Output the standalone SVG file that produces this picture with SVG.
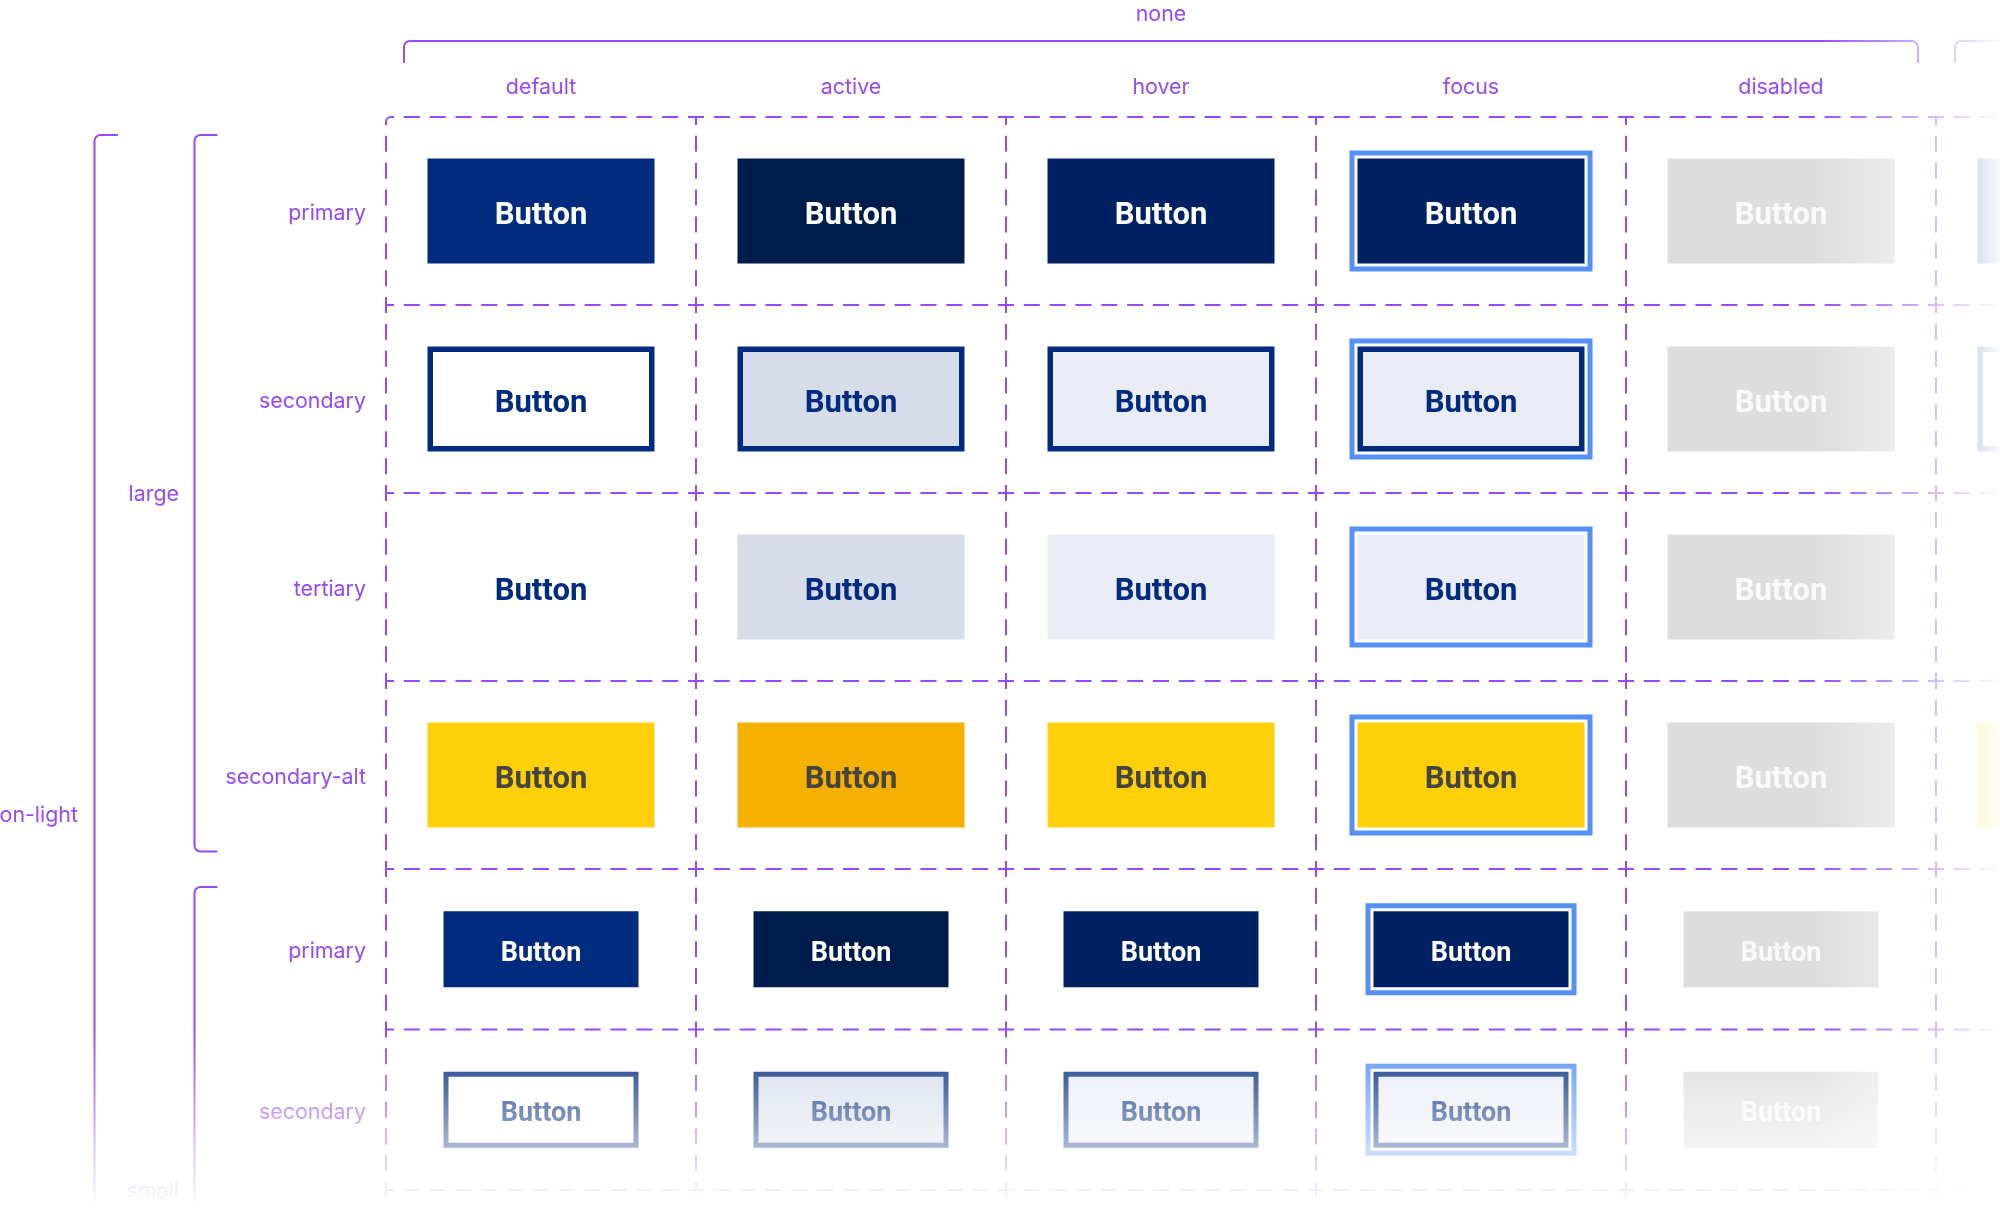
<svg xmlns="http://www.w3.org/2000/svg" width="2000" height="1208" viewBox="0 0 2000 1208">
<style>
.lbl{font-family:Inter,"Noto Sans","Liberation Sans",sans-serif;font-size:21.4px;fill:#9747ff}
.mid{text-anchor:middle}
.end{text-anchor:end}
.bt{font-family:Roboto,"Liberation Sans",sans-serif;font-weight:700;text-anchor:middle}
.L{font-size:31px}
.S{font-size:27px}
.w{fill:#ffffff}
.dt{fill:#f9f9f9}
.nt{fill:#002b7f}
.yt{fill:#444444}
.gh{stroke:#9747ff;stroke-width:2;fill:none;stroke-dasharray:16 9.833;stroke-dashoffset:8}
.gv{stroke:#9747ff;stroke-width:2;fill:none;stroke-dasharray:16 10.857;stroke-dashoffset:8}
.gs{stroke:#9747ff;stroke-width:2;fill:none;stroke-dasharray:16 10.75;stroke-dashoffset:8}
.br{stroke:#9747ff;stroke-width:2;fill:none}
.pd{fill:#002b7f}
.pa{fill:#001c4c}
.ph{fill:#002163}
.dis{fill:#dddddd}
.sb{stroke:#002b7f;stroke-width:5.5}
.ss{stroke:#002b7f;stroke-width:5}
.bgw{fill:#ffffff}
.bga{fill:#d6dde9}
.bgh{fill:#e9ecf5}
.yd{fill:#fdd00a}
.ya{fill:#f5b000}
.ring{fill:#5591f5}
.gap{fill:#ffffff}
</style>
<defs>
<linearGradient id="gR" gradientUnits="userSpaceOnUse" x1="1815" y1="0" x2="2005" y2="0">
<stop offset="0" stop-color="#ffffff"/><stop offset="1" stop-color="#000000"/>
</linearGradient>
<linearGradient id="gB" gradientUnits="userSpaceOnUse" x1="0" y1="1030" x2="0" y2="1208">
<stop offset="0" stop-color="#ffffff"/><stop offset="1" stop-color="#000000"/>
</linearGradient>
<mask id="mR" maskUnits="userSpaceOnUse" x="0" y="0" width="2000" height="1208"><rect x="0" y="0" width="2000" height="1208" fill="url(#gR)"/></mask>
<mask id="mB" maskUnits="userSpaceOnUse" x="0" y="0" width="2000" height="1208"><rect x="0" y="0" width="2000" height="1208" fill="url(#gB)"/></mask>
</defs>
<rect x="0" y="0" width="2000" height="1208" fill="#ffffff"/>
<g mask="url(#mB)">
<g mask="url(#mR)">

<g id="grid">
<path class="br" d="M386,125 V122 A5,5 0 0 1 391,117 H394"/>
<line class="gh" x1="391" y1="117" x2="2300" y2="117" style="stroke-dashoffset:13"/>
<line class="gh" x1="386" y1="305" x2="2300" y2="305"/>
<line class="gh" x1="386" y1="493" x2="2300" y2="493"/>
<line class="gh" x1="386" y1="681" x2="2300" y2="681"/>
<line class="gh" x1="386" y1="869" x2="2300" y2="869"/>
<line class="gh" x1="386" y1="1029.5" x2="2300" y2="1029.5"/>
<line class="gh" x1="386" y1="1190" x2="2300" y2="1190"/>
<line class="gv" x1="386" y1="122" x2="386" y2="869" style="stroke-dashoffset:13"/>
<line class="gv" x1="696" y1="117" x2="696" y2="869"/>
<line class="gv" x1="1006" y1="117" x2="1006" y2="869"/>
<line class="gv" x1="1316" y1="117" x2="1316" y2="869"/>
<line class="gv" x1="1626" y1="117" x2="1626" y2="869"/>
<line class="gv" x1="1936" y1="117" x2="1936" y2="869"/>
<line class="gs" x1="386" y1="869" x2="386" y2="1400"/>
<line class="gs" x1="696" y1="869" x2="696" y2="1400"/>
<line class="gs" x1="1006" y1="869" x2="1006" y2="1400"/>
<line class="gs" x1="1316" y1="869" x2="1316" y2="1400"/>
<line class="gs" x1="1626" y1="869" x2="1626" y2="1400"/>
<line class="gs" x1="1936" y1="869" x2="1936" y2="1400"/>
</g>

<g id="connectors">
<path class="br" d="M404,63 V47 A6,6 0 0 1 410,41 H1912 A6,6 0 0 1 1918,47 V63"/>
<path class="br" d="M1955,63 V47 A6,6 0 0 1 1961,41 H2300"/>
<path class="br" d="M118,135 H100.5 A6,6 0 0 0 94.5,141 V1400"/>
<path class="br" d="M217.5,135 H200.5 A6,6 0 0 0 194.5,141 V845.5 A6,6 0 0 0 200.5,851.5 H217.5"/>
<path class="br" d="M217.5,887 H200.5 A6,6 0 0 0 194.5,893 V1400"/>
</g>

<g id="labels">
<text class="lbl mid" x="1161" y="21">none</text>
<text class="lbl mid" x="541" y="94">default</text>
<text class="lbl mid" x="851" y="94">active</text>
<text class="lbl mid" x="1161" y="94">hover</text>
<text class="lbl mid" x="1471" y="94">focus</text>
<text class="lbl mid" x="1781" y="94">disabled</text>
<text class="lbl end" x="78" y="822">on-light</text>
<text class="lbl end" x="179" y="501">large</text>
<text class="lbl end" x="179" y="1198">small</text>
<text class="lbl end" x="366" y="219.5">primary</text>
<text class="lbl end" x="366" y="407.5">secondary</text>
<text class="lbl end" x="366" y="595.5">tertiary</text>
<text class="lbl end" x="366" y="783.5">secondary-alt</text>
<text class="lbl end" x="366" y="958">primary</text>
<text class="lbl end" x="366" y="1118.5">secondary</text>
</g>

<!-- large primary -->
<g id="large-primary-default"><rect class="pd" x="427.5" y="158.5" width="227" height="105"/><text class="bt L w" x="541" y="223.5">Button</text></g>
<g id="large-primary-active"><rect class="pa" x="737.5" y="158.5" width="227" height="105"/><text class="bt L w" x="851" y="223.5">Button</text></g>
<g id="large-primary-hover"><rect class="ph" x="1047.5" y="158.5" width="227" height="105"/><text class="bt L w" x="1161" y="223.5">Button</text></g>
<g id="large-primary-focus"><rect class="ring" x="1349.5" y="150.5" width="243" height="121"/><rect class="gap" x="1354.5" y="155.5" width="233" height="111"/><rect class="ph" x="1357.5" y="158.5" width="227" height="105"/><text class="bt L w" x="1471" y="223.5">Button</text></g>
<g id="large-primary-disabled"><rect class="dis" x="1667.5" y="158.5" width="227" height="105"/><text class="bt L dt" x="1781" y="223.5">Button</text></g>
<g id="large-primary-next"><rect class="pd" x="1977.5" y="158.5" width="227" height="105"/></g>

<!-- large secondary -->
<g id="large-secondary-default"><rect class="bgw sb" x="430.25" y="349.25" width="221.5" height="99.5"/><text class="bt L nt" x="541" y="411.5">Button</text></g>
<g id="large-secondary-active"><rect class="bga sb" x="740.25" y="349.25" width="221.5" height="99.5"/><text class="bt L nt" x="851" y="411.5">Button</text></g>
<g id="large-secondary-hover"><rect class="bgh sb" x="1050.25" y="349.25" width="221.5" height="99.5"/><text class="bt L nt" x="1161" y="411.5">Button</text></g>
<g id="large-secondary-focus"><rect class="ring" x="1349.5" y="338.5" width="243" height="121"/><rect class="gap" x="1354.5" y="343.5" width="233" height="111"/><rect class="bgh sb" x="1360.25" y="349.25" width="221.5" height="99.5"/><text class="bt L nt" x="1471" y="411.5">Button</text></g>
<g id="large-secondary-disabled"><rect class="dis" x="1667.5" y="346.5" width="227" height="105"/><text class="bt L dt" x="1781" y="411.5">Button</text></g>
<g id="large-secondary-next"><rect class="bgw sb" x="1980.25" y="349.25" width="221.5" height="99.5"/></g>

<!-- large tertiary -->
<g id="large-tertiary-default"><text class="bt L nt" x="541" y="599.5">Button</text></g>
<g id="large-tertiary-active"><rect class="bga" x="737.5" y="534.5" width="227" height="105"/><text class="bt L nt" x="851" y="599.5">Button</text></g>
<g id="large-tertiary-hover"><rect class="bgh" x="1047.5" y="534.5" width="227" height="105"/><text class="bt L nt" x="1161" y="599.5">Button</text></g>
<g id="large-tertiary-focus"><rect class="ring" x="1349.5" y="526.5" width="243" height="121"/><rect class="gap" x="1354.5" y="531.5" width="233" height="111"/><rect class="bgh" x="1357.5" y="534.5" width="227" height="105"/><text class="bt L nt" x="1471" y="599.5">Button</text></g>
<g id="large-tertiary-disabled"><rect class="dis" x="1667.5" y="534.5" width="227" height="105"/><text class="bt L dt" x="1781" y="599.5">Button</text></g>

<!-- large secondary-alt -->
<g id="large-secondary-alt-default"><rect class="yd" x="427.5" y="722.5" width="227" height="105"/><text class="bt L yt" x="541" y="787.5">Button</text></g>
<g id="large-secondary-alt-active"><rect class="ya" x="737.5" y="722.5" width="227" height="105"/><text class="bt L yt" x="851" y="787.5">Button</text></g>
<g id="large-secondary-alt-hover"><rect class="yd" x="1047.5" y="722.5" width="227" height="105"/><text class="bt L yt" x="1161" y="787.5">Button</text></g>
<g id="large-secondary-alt-focus"><rect class="ring" x="1349.5" y="714.5" width="243" height="121"/><rect class="gap" x="1354.5" y="719.5" width="233" height="111"/><rect class="yd" x="1357.5" y="722.5" width="227" height="105"/><text class="bt L yt" x="1471" y="787.5">Button</text></g>
<g id="large-secondary-alt-disabled"><rect class="dis" x="1667.5" y="722.5" width="227" height="105"/><text class="bt L dt" x="1781" y="787.5">Button</text></g>
<g id="large-secondary-alt-next"><rect class="yd" x="1977.5" y="722.5" width="227" height="105"/></g>

<!-- small primary -->
<g id="small-primary-default"><rect class="pd" x="443.5" y="911.25" width="195" height="76"/><text class="bt S w" x="541" y="960.5">Button</text></g>
<g id="small-primary-active"><rect class="pa" x="753.5" y="911.25" width="195" height="76"/><text class="bt S w" x="851" y="960.5">Button</text></g>
<g id="small-primary-hover"><rect class="ph" x="1063.5" y="911.25" width="195" height="76"/><text class="bt S w" x="1161" y="960.5">Button</text></g>
<g id="small-primary-focus"><rect class="ring" x="1365.5" y="903.25" width="211" height="92"/><rect class="gap" x="1370.5" y="908.25" width="201" height="82"/><rect class="ph" x="1373.5" y="911.25" width="195" height="76"/><text class="bt S w" x="1471" y="960.5">Button</text></g>
<g id="small-primary-disabled"><rect class="dis" x="1683.5" y="911.25" width="195" height="76"/><text class="bt S dt" x="1781" y="960.5">Button</text></g>

<!-- small secondary -->
<g id="small-secondary-default"><rect class="bgw ss" x="446" y="1074.25" width="190" height="71"/><text class="bt S nt" x="541" y="1121">Button</text></g>
<g id="small-secondary-active"><rect class="bga ss" x="756" y="1074.25" width="190" height="71"/><text class="bt S nt" x="851" y="1121">Button</text></g>
<g id="small-secondary-hover"><rect class="bgh ss" x="1066" y="1074.25" width="190" height="71"/><text class="bt S nt" x="1161" y="1121">Button</text></g>
<g id="small-secondary-focus"><rect class="ring" x="1365.5" y="1063.75" width="211" height="92"/><rect class="gap" x="1370.5" y="1068.75" width="201" height="82"/><rect class="bgh ss" x="1376" y="1074.25" width="190" height="71"/><text class="bt S nt" x="1471" y="1121">Button</text></g>
<g id="small-secondary-disabled"><rect class="dis" x="1683.5" y="1071.75" width="195" height="76"/><text class="bt S dt" x="1781" y="1121">Button</text></g>

</g>
</g>
</svg>
